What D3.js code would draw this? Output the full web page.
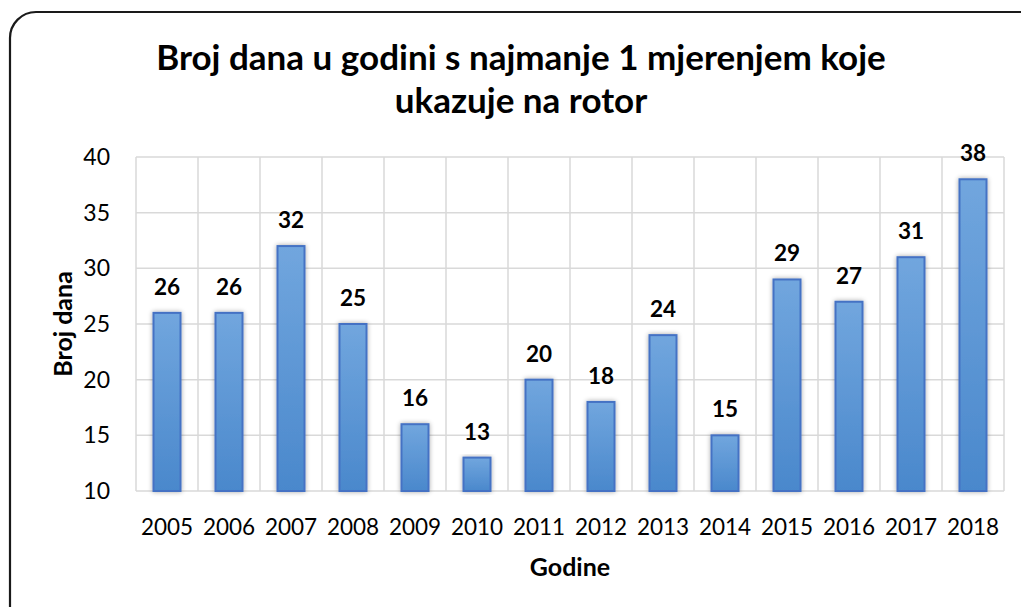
<!DOCTYPE html>
<html>
<head>
<meta charset="utf-8">
<script src="https://cdn.jsdelivr.net/npm/d3@7"></script>
<style>
  body { margin: 0; background: #fff; }
  svg text { font-family: Lato, "Open Sans", sans-serif; fill: #000; }
</style>
</head>
<body>
<svg id="chart" width="1021" height="607"></svg>
<script>
const years = ['2005', '2006', '2007', '2008', '2009', '2010', '2011',
  '2012', '2013', '2014', '2015', '2016', '2017', '2018'];
const days = [26, 26, 32, 25, 16, 13, 20, 18, 24, 15, 29, 27, 31, 38];
const yTicks = [10, 15, 20, 25, 30, 35, 40];
const titleLines = ['Broj dana u godini s najmanje 1 mjerenjem koje', 'ukazuje na rotor'];

const svg = d3.select('#chart');
const margin = { top: 157, right: 17, bottom: 116, left: 136 };
const width = 1021 - margin.left - margin.right;
const height = 607 - margin.top - margin.bottom;

// frame
svg.append('rect')
  .attr('x', 10).attr('y', 12)
  .attr('width', 1040).attr('height', 620)
  .attr('rx', 26)
  .attr('fill', 'none')
  .attr('stroke', '#1a1a1a')
  .attr('stroke-width', 2.2);

const defs = svg.append('defs');
const grad = defs.append('linearGradient')
  .attr('id', 'barFill')
  .attr('x1', 0).attr('y1', 0).attr('x2', 0).attr('y2', 1);
grad.append('stop').attr('offset', '0%').attr('stop-color', '#71a6de');
grad.append('stop').attr('offset', '100%').attr('stop-color', '#4a88cc');

const shadow = defs.append('filter').attr('id', 'shadow')
  .attr('x', '-30%').attr('y', '-10%').attr('width', '160%').attr('height', '120%');
shadow.append('feGaussianBlur').attr('in', 'SourceAlpha').attr('stdDeviation', 2.5);
shadow.append('feComponentTransfer').append('feFuncA').attr('type', 'linear').attr('slope', 0.35);
const merge = shadow.append('feMerge');
merge.append('feMergeNode');
merge.append('feMergeNode').attr('in', 'SourceGraphic');

const g = svg.append('g').attr('transform', `translate(${margin.left},${margin.top})`);

const x = d3.scaleBand().domain(years).range([0, width]).paddingInner(0).paddingOuter(0);
const y = d3.scaleLinear().domain([10, 40]).range([height, 0]);

// horizontal grid
g.append('g')
  .selectAll('line')
  .data(yTicks)
  .enter()
  .append('line')
  .attr('x1', 0).attr('x2', width)
  .attr('y1', d => y(d)).attr('y2', d => y(d))
  .attr('stroke', '#d9d9d9')
  .attr('stroke-width', 1.5);

// vertical grid at category boundaries
g.append('g')
  .selectAll('line')
  .data(d3.range(years.length + 1))
  .enter()
  .append('line')
  .attr('x1', i => i * x.step()).attr('x2', i => i * x.step())
  .attr('y1', 0).attr('y2', height)
  .attr('stroke', '#d9d9d9')
  .attr('stroke-width', 1.5);

// y axis labels
const yAxis = g.append('g')
  .attr('transform', 'translate(-26,0)')
  .call(d3.axisLeft(y).tickValues(yTicks).tickSize(0).tickPadding(0));
yAxis.select('.domain').remove();
yAxis.selectAll('text')
  .attr('font-size', 23)
  .attr('font-family', 'Lato, "Open Sans", sans-serif');

// x axis labels
const xAxis = g.append('g')
  .attr('transform', `translate(0,${height})`)
  .call(d3.axisBottom(x).tickSize(0).tickPadding(28));
xAxis.select('.domain').remove();
xAxis.selectAll('text')
  .attr('font-size', 22.5)
  .attr('font-family', 'Lato, "Open Sans", sans-serif');

const barW = 27;

g.append('g')
  .selectAll('rect')
  .data(days)
  .enter()
  .append('rect')
  .attr('x', (d, i) => x(years[i]) + x.bandwidth() / 2 - barW / 2)
  .attr('y', d => y(d))
  .attr('width', barW)
  .attr('height', d => height - y(d))
  .attr('fill', 'url(#barFill)')
  .attr('stroke', '#4472c4')
  .attr('stroke-width', 2)
  .attr('filter', 'url(#shadow)');

// value labels
g.append('g')
  .selectAll('text')
  .data(days)
  .enter()
  .append('text')
  .attr('x', (d, i) => x(years[i]) + x.bandwidth() / 2)
  .attr('y', d => y(d) - 18)
  .attr('text-anchor', 'middle')
  .attr('font-size', 22.5)
  .attr('font-weight', 'bold')
  .text(d => d);

// title
svg.append('g')
  .selectAll('text')
  .data(titleLines)
  .enter()
  .append('text')
  .attr('x', 521)
  .attr('y', (d, i) => 70 + i * 43)
  .attr('text-anchor', 'middle')
  .attr('font-size', 35)
  .attr('font-weight', 'bold')
  .text(d => d);

// axis titles
svg.append('text')
  .attr('x', margin.left + width / 2)
  .attr('y', 576)
  .attr('text-anchor', 'middle')
  .attr('font-size', 25)
  .attr('font-weight', 'bold')
  .text('Godine');

svg.append('text')
  .attr('transform', `translate(72,${margin.top + height / 2}) rotate(-90)`)
  .attr('text-anchor', 'middle')
  .attr('font-size', 25)
  .attr('font-weight', 'bold')
  .text('Broj dana');
</script>
</body>
</html>
